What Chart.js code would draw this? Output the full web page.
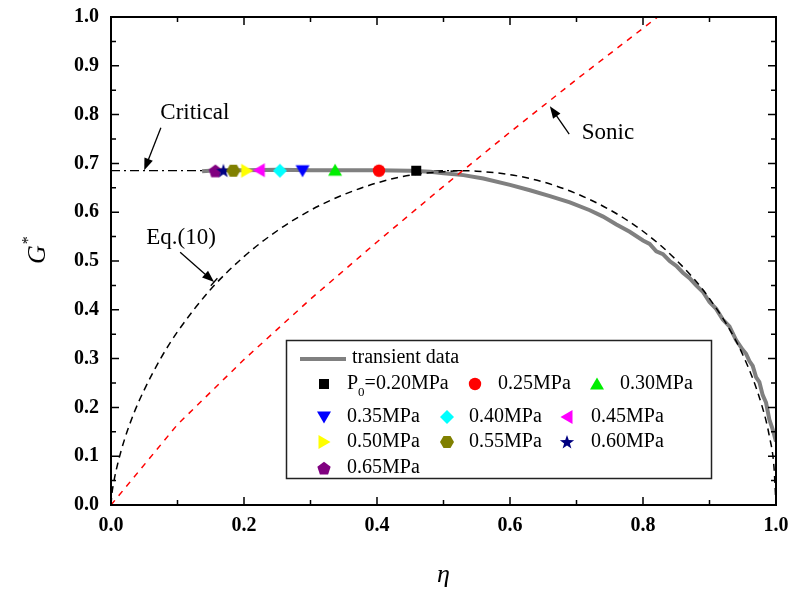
<!DOCTYPE html>
<html>
<head>
<meta charset="utf-8">
<script src="https://cdn.jsdelivr.net/npm/chart.js@4/dist/chart.umd.min.js"></script>
<style>
  html, body { margin: 0; padding: 0; background: #fff; }
  #wrap { width: 793px; height: 590px; }
</style>
</head>
<body>
<div id="wrap"><canvas id="myChart" width="793" height="590"></canvas></div>
<script>
// transient data (grey line)
const transEta = [0.137, 0.16, 0.2, 0.25, 0.3, 0.35, 0.4, 0.45, 0.48, 0.5, 0.53, 0.56, 0.6, 0.63, 0.66, 0.69, 0.72, 0.74, 0.76, 0.78, 0.80, 0.81, 0.82, 0.83, 0.84, 0.85, 0.86, 0.87, 0.88, 0.89, 0.90, 0.91, 0.92, 0.93, 0.94, 0.95, 0.955, 0.96, 0.965, 0.97, 0.975, 0.98, 0.985, 0.99, 0.995, 1.0];
const transG = [0.684, 0.686, 0.686, 0.687, 0.686, 0.686, 0.686, 0.685, 0.683, 0.680, 0.676, 0.669, 0.656, 0.645, 0.633, 0.620, 0.604, 0.591, 0.575, 0.560, 0.542, 0.535, 0.520, 0.514, 0.500, 0.490, 0.476, 0.465, 0.450, 0.437, 0.416, 0.402, 0.380, 0.366, 0.338, 0.318, 0.310, 0.295, 0.285, 0.262, 0.252, 0.225, 0.210, 0.175, 0.155, 0.130];

// Eq.(10) curve
const eqEta = [0, 0.001, 0.005, 0.01, 0.02, 0.035, 0.05, 0.075, 0.1, 0.15, 0.2, 0.25, 0.3, 0.35, 0.4, 0.45, 0.5, 0.528, 0.55, 0.6, 0.65, 0.7, 0.75, 0.8, 0.85, 0.9, 0.95, 0.98, 0.99, 0.997, 1.0];
const eqG = [0, 0.018, 0.053, 0.084, 0.133, 0.190, 0.236, 0.301, 0.355, 0.442, 0.509, 0.562, 0.604, 0.636, 0.660, 0.676, 0.683, 0.685, 0.684, 0.677, 0.662, 0.638, 0.605, 0.561, 0.502, 0.423, 0.308, 0.198, 0.141, 0.077, 0];

// sonic line
const sonicEta = [0, 0.1, 0.2, 0.3, 0.4, 0.5, 0.6, 0.7, 0.8, 0.822];
const sonicG = [0, 0.165, 0.298, 0.422, 0.539, 0.653, 0.764, 0.872, 0.977, 1.0];

// critical line
const critEta = [0, 0.528];
const critG = [0.685, 0.685];

// steady points for each P0
const pLabels = ['P0=0.20MPa', '0.25MPa', '0.30MPa', '0.35MPa', '0.40MPa', '0.45MPa', '0.50MPa', '0.55MPa', '0.60MPa', '0.65MPa'];
const pEta = [0.459, 0.403, 0.337, 0.288, 0.254, 0.223, 0.204, 0.184, 0.169, 0.157];
const pG = [0.685, 0.685, 0.686, 0.685, 0.685, 0.686, 0.685, 0.685, 0.685, 0.685];
const pShapes = ['square', 'circle', 'up', 'down', 'diamond', 'left', 'right', 'hexagon', 'star', 'pentagon'];
const pColors = ['#000000', '#ff0000', '#00ee00', '#0000ff', '#00ffff', '#ff00ff', '#ffff00', '#808000', '#000080', '#800080'];

// axis ticks
const xMinor = [0.1, 0.3, 0.5, 0.7, 0.9];
const yMinor = [0.05, 0.15, 0.25, 0.35, 0.45, 0.55, 0.65, 0.75, 0.85, 0.95];

const SERIF = '"Liberation Serif", "Times New Roman", serif';

function toPoints(xs, ys) {
  return xs.map((x, i) => ({ x: x, y: ys[i] }));
}

function makeMarker(shape, color) {
  const c = document.createElement('canvas');
  c.width = 16;
  c.height = 16;
  const g = c.getContext('2d');
  g.fillStyle = color;
  g.beginPath();
  const poly = (pts) => {
    g.moveTo(pts[0][0], pts[0][1]);
    for (let i = 1; i < pts.length; i++) g.lineTo(pts[i][0], pts[i][1]);
    g.closePath();
  };
  if (shape === 'square') {
    g.rect(3, 3, 10, 10);
  } else if (shape === 'circle') {
    g.arc(8, 8, 6.2, 0, Math.PI * 2);
  } else if (shape === 'up') {
    poly([[8, 1.5], [15, 13.5], [1, 13.5]]);
  } else if (shape === 'down') {
    poly([[1, 2.5], [15, 2.5], [8, 14.5]]);
  } else if (shape === 'diamond') {
    poly([[8, 1], [15, 8], [8, 15], [1, 8]]);
  } else if (shape === 'left') {
    poly([[1.5, 8], [13.5, 1], [13.5, 15]]);
  } else if (shape === 'right') {
    poly([[14.5, 8], [2.5, 1], [2.5, 15]]);
  } else if (shape === 'hexagon') {
    const pts = [];
    for (let k = 0; k < 6; k++) {
      const a = k * Math.PI / 3;
      pts.push([8 + 7 * Math.cos(a), 8 + 7 * Math.sin(a)]);
    }
    poly(pts);
  } else if (shape === 'star') {
    const pts = [];
    for (let k = 0; k < 10; k++) {
      const a = -Math.PI / 2 + k * Math.PI / 5;
      const r = k % 2 === 0 ? 7.5 : 3;
      pts.push([8 + r * Math.cos(a), 8.5 + r * Math.sin(a)]);
    }
    poly(pts);
  } else if (shape === 'pentagon') {
    const pts = [];
    for (let k = 0; k < 5; k++) {
      const a = -Math.PI / 2 + k * 2 * Math.PI / 5;
      pts.push([8 + 7 * Math.cos(a), 8.8 + 7 * Math.sin(a)]);
    }
    poly(pts);
  }
  g.fill();
  return c;
}

const markers = pShapes.map((s, i) => makeMarker(s, pColors[i]));

const datasets = [];
for (let i = 0; i < pLabels.length; i++) {
  datasets.push({
    label: pLabels[i],
    data: [{ x: pEta[i], y: pG[i] }],
    pointStyle: markers[i],
    showLine: false,
    order: 0
  });
}
datasets.push({
  label: 'Sonic',
  data: toPoints(sonicEta, sonicG),
  showLine: true,
  borderColor: '#ff0000',
  borderWidth: 1.5,
  borderDash: [6, 6],
  pointRadius: 0,
  order: 1
});
datasets.push({
  label: 'Eq.(10)',
  data: toPoints(eqEta, eqG),
  showLine: true,
  borderColor: '#000000',
  borderWidth: 1.5,
  borderDash: [7, 5],
  cubicInterpolationMode: 'monotone',
  pointRadius: 0,
  order: 2
});
datasets.push({
  label: 'transient data',
  data: toPoints(transEta, transG),
  showLine: true,
  borderColor: '#808080',
  borderWidth: 4,
  pointRadius: 0,
  order: 3
});
datasets.push({
  label: 'Critical',
  data: toPoints(critEta, critG),
  showLine: true,
  borderColor: '#000000',
  borderWidth: 1.3,
  borderDash: [9, 4, 2, 4],
  pointRadius: 0,
  order: 4
});

function arrow(ctx, x1, y1, x2, y2, bar) {
  const ang = Math.atan2(y2 - y1, x2 - x1);
  const len = 12, wid = 4.5;
  ctx.strokeStyle = '#000';
  ctx.fillStyle = '#000';
  ctx.lineWidth = 1.3;
  ctx.beginPath();
  ctx.moveTo(x1, y1);
  ctx.lineTo(x2 - Math.cos(ang) * len * 0.8, y2 - Math.sin(ang) * len * 0.8);
  ctx.stroke();
  ctx.beginPath();
  ctx.moveTo(x2, y2);
  ctx.lineTo(x2 - Math.cos(ang) * len - Math.sin(ang) * wid, y2 - Math.sin(ang) * len + Math.cos(ang) * wid);
  ctx.lineTo(x2 - Math.cos(ang) * len + Math.sin(ang) * wid, y2 - Math.sin(ang) * len - Math.cos(ang) * wid);
  ctx.closePath();
  ctx.fill();
  if (bar) {
    ctx.beginPath();
    ctx.moveTo(x2 - Math.sin(ang) * 5, y2 + Math.cos(ang) * 5);
    ctx.lineTo(x2 + Math.sin(ang) * 5, y2 - Math.cos(ang) * 5);
    ctx.stroke();
  }
}

const decorPlugin = {
  id: 'decor',
  afterDraw(chart) {
    const ctx = chart.ctx;
    const a = chart.chartArea;
    const xs = chart.scales.x, ys = chart.scales.y;
    ctx.save();

    // frame
    ctx.strokeStyle = '#000';
    ctx.lineWidth = 2;
    ctx.strokeRect(a.left, a.top, a.right - a.left, a.bottom - a.top);

    // inward ticks, all four sides
    ctx.lineWidth = 1.5;
    ctx.beginPath();
    xs.ticks.forEach(t => {
      const px = xs.getPixelForValue(t.value);
      ctx.moveTo(px, a.bottom); ctx.lineTo(px, a.bottom - 8);
      ctx.moveTo(px, a.top); ctx.lineTo(px, a.top + 8);
    });
    xMinor.forEach(v => {
      const px = xs.getPixelForValue(v);
      ctx.moveTo(px, a.bottom); ctx.lineTo(px, a.bottom - 5);
      ctx.moveTo(px, a.top); ctx.lineTo(px, a.top + 5);
    });
    ys.ticks.forEach(t => {
      const py = ys.getPixelForValue(t.value);
      ctx.moveTo(a.left, py); ctx.lineTo(a.left + 8, py);
      ctx.moveTo(a.right, py); ctx.lineTo(a.right - 8, py);
    });
    yMinor.forEach(v => {
      const py = ys.getPixelForValue(v);
      ctx.moveTo(a.left, py); ctx.lineTo(a.left + 5, py);
      ctx.moveTo(a.right, py); ctx.lineTo(a.right - 5, py);
    });
    ctx.stroke();

    // axis titles
    ctx.fillStyle = '#000';
    ctx.textBaseline = 'alphabetic';
    ctx.font = 'italic 26px ' + SERIF;
    ctx.textAlign = 'center';
    ctx.fillText('\u03b7', (a.left + a.right) / 2, 582);
    ctx.save();
    ctx.translate(45, 264);
    ctx.rotate(-Math.PI / 2);
    ctx.textAlign = 'left';
    ctx.fillText('G', 0, 0);
    const gw = ctx.measureText('G').width;
    ctx.font = '16px ' + SERIF;
    ctx.fillText('*', gw + 1, -12);
    ctx.restore();

    // annotations
    ctx.font = '23px ' + SERIF;
    ctx.textAlign = 'center';
    ctx.textBaseline = 'middle';
    ctx.fillText('Critical', xs.getPixelForValue(0.126), ys.getPixelForValue(0.803));
    ctx.textAlign = 'left';
    ctx.fillText('Sonic', xs.getPixelForValue(0.708), ys.getPixelForValue(0.762));
    ctx.fillText('Eq.(10)', xs.getPixelForValue(0.053), ys.getPixelForValue(0.547));
    arrow(ctx, xs.getPixelForValue(0.075), ys.getPixelForValue(0.773), xs.getPixelForValue(0.050), ys.getPixelForValue(0.686), false);
    arrow(ctx, xs.getPixelForValue(0.689), ys.getPixelForValue(0.760), xs.getPixelForValue(0.660), ys.getPixelForValue(0.817), false);
    arrow(ctx, xs.getPixelForValue(0.104), ys.getPixelForValue(0.518), xs.getPixelForValue(0.155), ys.getPixelForValue(0.457), true);

    // legend
    ctx.lineWidth = 1.5;
    ctx.strokeStyle = '#222';
    ctx.strokeRect(286.5, 340.5, 425, 138);
    ctx.strokeStyle = '#808080';
    ctx.lineWidth = 4;
    ctx.beginPath();
    ctx.moveTo(300, 359); ctx.lineTo(346, 359);
    ctx.stroke();
    ctx.font = '20px ' + SERIF;
    ctx.textAlign = 'left';
    ctx.textBaseline = 'middle';
    ctx.fillText('transient data', 352, 358);

    const rowsY = [384, 417, 442, 468];
    const cols1 = [[324, 347], [475, 498], [597, 620]];
    const cols2 = [[324, 347], [447, 469], [567, 591]];
    for (let i = 0; i < pLabels.length; i++) {
      const r = i < 3 ? 0 : Math.floor((i - 3) / 3) + 1;
      const cset = r === 0 ? cols1 : cols2;
      const c = cset[i < 3 ? i : (i - 3) % 3];
      const y = rowsY[r];
      ctx.drawImage(markers[i], c[0] - 8, y - 8);
      if (i === 0) {
        ctx.font = '20px ' + SERIF;
        ctx.fillText('P', c[1], y);
        const w1 = ctx.measureText('P').width;
        ctx.font = '13px ' + SERIF;
        ctx.fillText('0', c[1] + w1, y + 9);
        const w2 = ctx.measureText('0').width;
        ctx.font = '20px ' + SERIF;
        ctx.fillText('=0.20MPa', c[1] + w1 + w2, y);
      } else {
        ctx.fillText(pLabels[i], c[1], y);
      }
    }
    ctx.restore();
  }
};

const ctx = document.getElementById('myChart').getContext('2d');
new Chart(ctx, {
  type: 'scatter',
  data: { datasets: datasets },
  options: {
    responsive: false,
    animation: false,
    events: [],
    layout: { padding: { left: 0, top: 17, right: 17, bottom: 0 } },
    plugins: { legend: { display: false }, tooltip: { enabled: false } },
    scales: {
      x: {
        type: 'linear',
        min: 0,
        max: 1,
        grid: { display: false, drawTicks: false },
        border: { display: false },
        ticks: {
          stepSize: 0.2,
          padding: 9,
          color: '#000',
          maxRotation: 0,
          autoSkip: false,
          font: { family: SERIF, size: 20, weight: 'bold' },
          callback: v => v.toFixed(1)
        },
        afterFit: s => {
          s.height = 85;
          s.paddingLeft = 0;
          s.paddingRight = 0;
        }
      },
      y: {
        type: 'linear',
        min: 0,
        max: 1,
        grid: { display: false, drawTicks: false },
        border: { display: false },
        ticks: {
          stepSize: 0.1,
          padding: 12,
          color: '#000',
          autoSkip: false,
          font: { family: SERIF, size: 20, weight: 'bold' },
          callback: v => v.toFixed(1)
        },
        afterFit: s => {
          s.width = 111;
          s.paddingTop = 0;
          s.paddingBottom = 0;
        }
      }
    }
  },
  plugins: [decorPlugin]
});
</script>
</body>
</html>
